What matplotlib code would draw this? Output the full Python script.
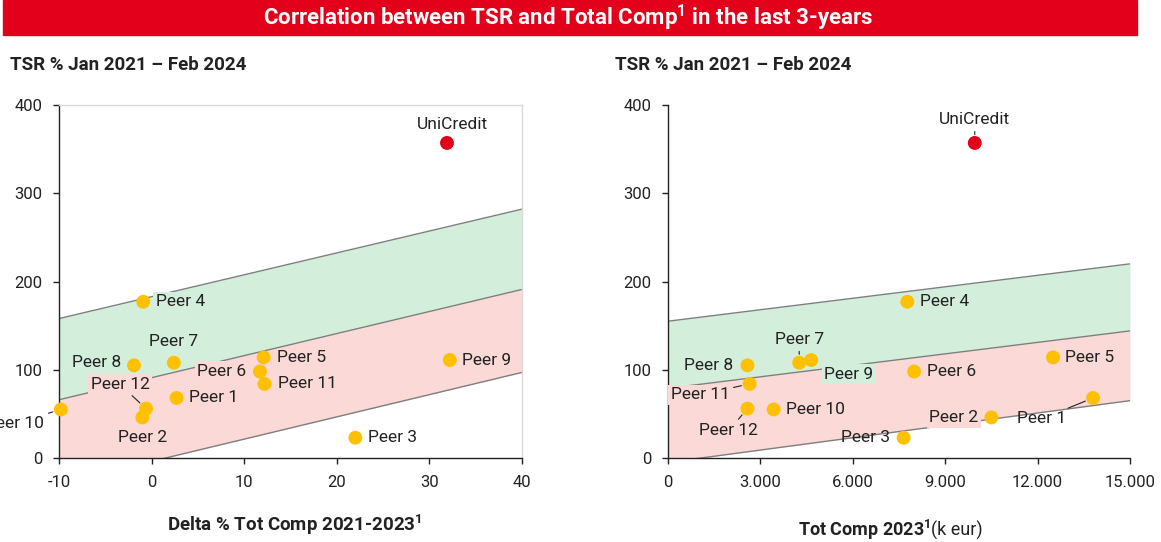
import matplotlib.pyplot as plt
from matplotlib.patches import Rectangle
from matplotlib.ticker import FuncFormatter

plt.rcParams['font.family'] = ['Roboto', 'DejaVu Sans']
plt.rcParams['axes.unicode_minus'] = False
plt.rcParams['mathtext.fontset'] = 'custom'
plt.rcParams['mathtext.rm'] = 'Roboto'
plt.rcParams['mathtext.bf'] = 'Roboto:bold'

# --- data ---
names = ["UniCredit", "Peer 1", "Peer 2", "Peer 3", "Peer 4", "Peer 5", "Peer 6",
         "Peer 7", "Peer 8", "Peer 9", "Peer 10", "Peer 11", "Peer 12"]
tsr = [357, 68, 46, 23, 177, 114, 98, 108, 105, 111, 55, 84, 56]
delta_comp = [31.9, 2.7, -1.0, 22.0, -0.9, 12.1, 11.7, 2.4, -1.9, 32.2, -9.8, 12.2, -0.6]
tot_comp = [9960, 13800, 10500, 7650, 7770, 12500, 7990, 4260, 2580, 4650, 3430, 2650, 2580]

# regression bands (upper / central / lower lines)
left_band_x = [-10, 40]
left_upper = [158, 282]
left_mid = [66, 191]
left_lower = [-29, 97]

right_band_x = [0, 15000]
right_upper = [155, 220]
right_mid = [79, 144]
right_lower = [-5, 65]

left_xticks = [-10, 0, 10, 20, 30, 40]
right_xticks = [0, 3000, 6000, 9000, 12000, 15000]
yticks = [0, 100, 200, 300, 400]

RED = "#e2001a"
GOLD = "#ffc000"
GREEN = "#d3efdc"
PINK = "#fbd9d6"
DARK = "#222222"

# label placement: name -> (dx px, dy px, ha, background, leader line)
left_labels = {
    "UniCredit": (5, 18, "center", None, False),
    "Peer 1": (12.5, 0, "left", None, False),
    "Peer 2": (0, -20, "center", None, False),
    "Peer 3": (12.5, 0, "left", None, False),
    "Peer 4": (12.5, 0, "left", GREEN, False),
    "Peer 5": (13, 0, "left", None, False),
    "Peer 6": (-13.5, 0, "right", PINK, False),
    "Peer 7": (0, 21, "center", None, False),
    "Peer 8": (-12.5, 3, "right", None, False),
    "Peer 9": (12.5, 0, "left", None, False),
    "Peer 10": (-16.5, -14, "right", None, True),
    "Peer 11": (13, 0, "left", None, False),
    "Peer 12": (-26, 24, "center", PINK, True),
}
right_labels = {
    "UniCredit": (0, 23, "center", None, True),
    "Peer 1": (-27, -21, "right", None, True),
    "Peer 2": (-13, 0, "right", PINK, False),
    "Peer 3": (-13, 0, "right", None, False),
    "Peer 4": (12.5, 0, "left", None, False),
    "Peer 5": (12, 0, "left", None, False),
    "Peer 6": (13, 0, "left", None, False),
    "Peer 7": (0, 23, "center", None, True),
    "Peer 8": (-14, 0, "right", None, False),
    "Peer 9": (37.5, -14, "center", GREEN, False),
    "Peer 10": (12.5, 0, "left", None, False),
    "Peer 11": (-20, -11, "right", PINK, True),
    "Peer 12": (-18.6, -22, "center", None, True),
}

W, H = 1161, 542
fig = plt.figure(figsize=(W / 100, H / 100), dpi=100)


def px_rect(x0, y_top, x1, y_bot):
    return [x0 / W, 1 - y_bot / H, (x1 - x0) / W, (y_bot - y_top) / H]


def draw_panel(ax, xs, band_x, upper, mid, lower, labels, xlim, xticks, frame):
    ax.fill_between(band_x, mid, upper, color=GREEN, lw=0, zorder=1)
    ax.fill_between(band_x, lower, mid, color=PINK, lw=0, zorder=1)
    for line in (upper, mid, lower):
        ax.plot(band_x, line, color="#7f7f7f", lw=1, zorder=2)

    colors = [RED if n == "UniCredit" else GOLD for n in names]
    ax.scatter(xs, tsr, s=100, c=colors, zorder=5, clip_on=False, linewidths=0)

    for n, x, y in zip(names, xs, tsr):
        dx, dy, ha, bg, leader = labels[n]
        kw = {}
        if bg:
            kw["bbox"] = dict(boxstyle="square,pad=0.15", fc=bg, ec="none")
        if leader:
            kw["arrowprops"] = dict(arrowstyle="-", color=DARK, lw=0.8,
                                    shrinkA=1, shrinkB=6)
        ax.annotate(n, (x, y), xytext=(dx * 0.72, dy * 0.72),
                    textcoords="offset points", ha=ha, va="center",
                    fontsize=12.5, color=DARK, zorder=6, annotation_clip=False, **kw)

    ax.set_xlim(*xlim)
    ax.set_ylim(0, 400)
    ax.set_xticks(xticks)
    ax.set_yticks(yticks)
    ax.tick_params(direction="out", length=4, width=1, color=DARK,
                   labelsize=12, labelcolor=DARK, pad=8)
    for side in ("left", "bottom"):
        ax.spines[side].set_color(DARK)
        ax.spines[side].set_linewidth(1)
    for side in ("top", "right"):
        if frame:
            ax.spines[side].set_color("#d9d9d9")
            ax.spines[side].set_linewidth(1)
        else:
            ax.spines[side].set_visible(False)


ax1 = fig.add_axes(px_rect(59, 105, 522, 458))
draw_panel(ax1, delta_comp, left_band_x, left_upper, left_mid, left_lower,
           left_labels, (-10, 40), left_xticks, True)

ax2 = fig.add_axes(px_rect(668, 105, 1130, 458))
draw_panel(ax2, tot_comp, right_band_x, right_upper, right_mid, right_lower,
           right_labels, (0, 15000), right_xticks, False)
ax2.xaxis.set_major_formatter(FuncFormatter(lambda v, p: f"{int(v):,}".replace(",", ".")))

# title bar
fig.patches.append(Rectangle((3 / W, 1 - 35 / H), 1134 / W, 35 / H,
                             transform=fig.transFigure, color=RED, zorder=0))
fig.text(568 / W, 1 - 18 / H,
         r"Correlation between TSR and Total Comp$^{\mathbf{1}}$ in the last 3-years",
         ha="center", va="center", color="white", fontsize=16, fontweight="bold")

# axis titles
for x0 in (10, 615):
    fig.text(x0 / W, 1 - 65 / H, "TSR % Jan 2021 – Feb 2024", ha="left", va="center",
             fontsize=13.5, fontweight="bold", color=DARK)
fig.text(295 / W, 1 - 525 / H, r"Delta % Tot Comp 2021-2023$^{\mathbf{1}}$",
         ha="center", va="center", fontsize=13.5, fontweight="bold", color=DARK)
fig.text(930 / W, 1 - 530 / H, r"Tot Comp 2023$^{\mathbf{1}}$", ha="right", va="center",
         fontsize=13, fontweight="bold", color=DARK)
fig.text(931 / W, 1 - 530 / H, "(k eur)", ha="left", va="center",
         fontsize=13, color=DARK)

fig.savefig("out.png", dpi=100)
